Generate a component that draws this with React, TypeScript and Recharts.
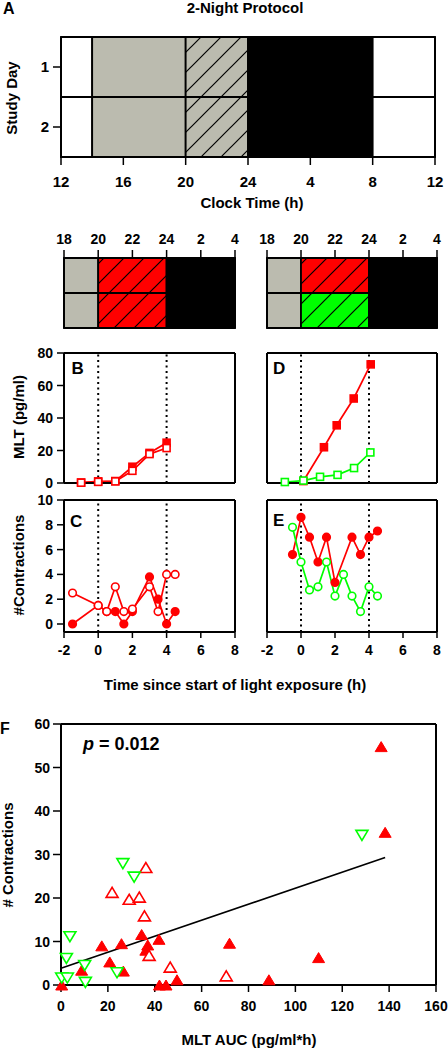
import React from "react"
import {
  ComposedChart,
  ScatterChart,
  Line,
  Scatter,
  XAxis,
  YAxis,
  ReferenceArea,
  ReferenceLine,
} from "recharts"

const FONT = "'Liberation Sans', Arial, Helvetica, sans-serif"
const RED = "#ff0000"
const GREEN = "#00ff00"
const GRAY = "#bbbbaf"

// panel A: 2-night protocol schedule (clock hours, 24+ = after midnight)
const studyDays = [1, 2]
const clockTicks = [12, 16, 20, 24, 28, 32, 36]
const clockLabels = ["12", "16", "20", "24", "4", "8", "12"]
const scheduleFrom = [12, 14, 20, 24, 32]
const scheduleTo = [14, 20, 24, 32, 36]
const scheduleKind = ["free", "dim", "dimLight", "sleep", "free"]

// light exposure bars above B-E
const barTicks = [18, 20, 22, 24, 26, 28]
const barLabels = ["18", "20", "22", "24", "2", "4"]
const barFrom = [18, 20, 24]
const barTo = [20, 24, 28]
const barKindLeft = [["dim", "red", "sleep"], ["dim", "red", "sleep"]]
const barKindRight = [["dim", "red", "sleep"], ["dim", "green", "sleep"]]

// time axes for B-E
const timeTicks = [-2, 0, 2, 4, 6, 8]
const lightOnOff = [0, 4]
const mltTicks = [0, 20, 40, 60, 80]
const contractionTicks = [0, 2, 4, 6, 8, 10]

// B: melatonin, red light both nights
const bTime = [-1, 0, 1, 2, 3, 4]
const bNight1 = [0.3, 1.0, 1.2, 10, 18.5, 24.8]
const bNight2 = [0.2, 0.7, 1.0, 7.5, 17.8, 21.5]

// D: melatonin, red vs green night
const dRedTime = [0.14, 1.35, 2.1, 3.1, 4.1]
const dRed = [1.2, 22, 35.5, 52, 73]
const dGreenTime = [-0.95, 0.14, 1.12, 2.15, 3.12, 4.08]
const dGreen = [0.6, 1.5, 3.8, 5.0, 9.2, 18.8]

// C: contractions, red light both nights
const cTime = [-1.5, 0, 0.5, 1, 1.5, 2, 3, 3.5, 4, 4.5]
const cNight1 = [0, 1.5, 1, 1, 0, 1, 3.8, 2, 0, 1]
const cNight2 = [2.5, 1.5, 1, 3, 1, 1.2, 3, 1, 4, 4]

// E: contractions, red vs green night
const eRedTime = [-0.5, 0, 0.5, 1, 1.5, 2, 3, 3.5, 4, 4.5]
const eRed = [5.6, 8.6, 7, 5, 7, 3.35, 7, 5.6, 7, 7.5]
const eGreenTime = [-0.5, 0, 0.5, 1, 1.5, 2, 2.5, 3, 3.5, 4, 4.5]
const eGreen = [7.8, 5, 2.75, 3, 5, 2.25, 4, 2.25, 1, 3, 2.25]

// F: contractions vs melatonin AUC
const aucTicks = [0, 20, 40, 60, 80, 100, 120, 140, 160]
const countTicks = [0, 10, 20, 30, 40, 50, 60]
const filledAuc = [136.6, 138.3, 17.4, 25.8, 34.4, 37.0, 36.2, 41.8, 20.8, 8.8, 26.6, 0.3, 42.0, 44.8, 49.5, 71.9, 109.9, 88.7]
const filledCount = [54.8, 35.1, 9.0, 9.5, 11.6, 9.2, 8.0, 10.5, 5.3, 3.4, 3.2, 0, 0, 0, 1.2, 9.6, 6.3, 1.2]
const openAuc = [36.2, 21.8, 29.1, 33.4, 35.6, 37.6, 46.6, 70.5]
const openCount = [27.0, 21.3, 19.7, 20.2, 15.9, 6.8, 4.1, 2.1]
const greenAuc = [128.4, 26.4, 31.2, 3.8, 2.3, 10.1, 23.9, 0.3, 2.7, 10.4]
const greenCount = [34.4, 27.9, 24.8, 11.1, 6.1, 4.5, 2.8, 1.6, 1.6, 0.6]
const fitAuc = [0, 138.3]
const fitCount = [3.85, 29.3]

const series = (ts: number[], vs: number[]) => ts.map((t, i) => ({ t, v: vs[i] }))
const points = (xs: number[], ys: number[]) => xs.map((x, i) => ({ x, y: ys[i] }))

const FILL: Record<string, string> = {
  free: "#fff",
  dim: GRAY,
  dimLight: "url(#hatchGray)",
  sleep: "#000",
  red: "url(#hatchRed)",
  green: "url(#hatchGreen)",
}

// plot rectangles in page pixels
type Rect = { x0: number; y0: number; x1: number; y1: number }
const RA = { x0: 61, y0: 37, x1: 435, y1: 157 }
const BAR_L = { x0: 64, y0: 258, x1: 235, y1: 328 }
const BAR_R = { x0: 267, y0: 258, x1: 437, y1: 328 }
const RB = { x0: 64, y0: 353, x1: 235, y1: 483 }
const RD = { x0: 267, y0: 353, x1: 437, y1: 483 }
const RC = { x0: 64, y0: 500, x1: 235, y1: 632 }
const RE = { x0: 267, y0: 500, x1: 437, y1: 632 }
const RF = { x0: 61, y0: 724, x1: 436, y1: 985 }

const PAD = 50
const AX = { left: 45, right: 5, top: 30, bottom: 35 }

function place(r: Rect) {
  return {
    style: { position: "absolute" as const, left: r.x0 - PAD, top: r.y0 - PAD },
    width: r.x1 - r.x0 + 2 * PAD,
    height: r.y1 - r.y0 + 2 * PAD,
    margin: { left: PAD - AX.left, right: PAD - AX.right, top: PAD - AX.top, bottom: PAD - AX.bottom },
  }
}

const tickFont = (size: number) => ({ fill: "#000", fontSize: size, fontWeight: 700, fontFamily: FONT })
const axisLine = { stroke: "#000", strokeWidth: 2 }
const tickLine = { stroke: "#000", strokeWidth: 1.5 }

const yTickLabel = (size: number) => (p: any) => (
  <text x={p.x} y={p.y} dy="0.36em" textAnchor="end" style={tickFont(size)}>
    {p.payload.value}
  </text>
)

const square = (color: string, filled: boolean) => (p: any) => (
  <rect key={`sq-${p.index}`} x={p.cx - 3.5} y={p.cy - 3.5} width={7} height={7}
    fill={filled ? color : "#fff"} stroke={color} strokeWidth={1.6} />
)
const circle = (color: string, filled: boolean) => (p: any) => (
  <circle key={`ci-${p.index}`} cx={p.cx} cy={p.cy} r={3.8}
    fill={filled ? color : "#fff"} stroke={color} strokeWidth={1.6} />
)
const triangle = (color: string, filled: boolean, up: boolean) => (p: any) => {
  const { cx, cy } = p
  const w = 6
  const h = 5
  const d = up
    ? `M${cx - w},${cy + h}L${cx + w},${cy + h}L${cx},${cy - h}Z`
    : `M${cx - w},${cy - h}L${cx + w},${cy - h}L${cx},${cy + h}Z`
  return <path d={d} fill={filled ? color : "#fff"} stroke={color} strokeWidth={filled ? 1 : 1.6} />
}

function hatch(id: string, color: string) {
  return (
    <pattern id={id} patternUnits="userSpaceOnUse" width={20} height={20}>
      <rect width={20} height={20} fill={color} />
      <path d="M0,20L20,0M-5,5L5,-5M15,25L25,15" stroke="#000" strokeWidth={1.2} />
    </pattern>
  )
}

function ScheduleChart() {
  const p = place(RA)
  return (
    <div style={p.style}>
      <ComposedChart width={p.width} height={p.height} margin={p.margin} data={clockTicks.map((t) => ({ t }))}>
        <XAxis type="number" dataKey="t" domain={[12, 36]} ticks={clockTicks} interval={0}
          tickFormatter={(v) => clockLabels[clockTicks.indexOf(v)]} height={AX.bottom}
          tickSize={8} tickMargin={11} tick={tickFont(15)} axisLine={axisLine} tickLine={tickLine} allowDataOverflow />
        <XAxis xAxisId="top" orientation="top" type="number" domain={[12, 36]} height={AX.top}
          tick={false} tickLine={false} axisLine={axisLine} allowDataOverflow />
        <YAxis type="number" domain={[0.5, 2.5]} reversed ticks={studyDays} interval={0} width={AX.left}
          tickSize={8} tickMargin={4} tick={tickFont(15)} axisLine={axisLine} tickLine={tickLine} allowDataOverflow />
        <YAxis yAxisId="right" orientation="right" type="number" domain={[0.5, 2.5]} reversed width={AX.right}
          tick={false} tickLine={false} axisLine={axisLine} allowDataOverflow />
        {studyDays.map((day) =>
          scheduleFrom.map((from, i) => (
            <ReferenceArea key={`${day}-${i}`} x1={from} x2={scheduleTo[i]} y1={day - 0.5} y2={day + 0.5}
              fill={FILL[scheduleKind[i]]} fillOpacity={1} stroke="#000" strokeWidth={1.8} ifOverflow="visible" />
          ))
        )}
      </ComposedChart>
    </div>
  )
}

function ExposureBar({ r, kinds }: { r: Rect; kinds: string[][] }) {
  const p = place(r)
  return (
    <div style={p.style}>
      <ComposedChart width={p.width} height={p.height} margin={p.margin} data={barTicks.map((t) => ({ t }))}>
        <XAxis orientation="top" type="number" dataKey="t" domain={[18, 28]} ticks={barTicks} interval={0}
          tickFormatter={(v) => barLabels[barTicks.indexOf(v)]} height={AX.top}
          tickSize={8} tickMargin={6} tick={tickFont(14)} axisLine={axisLine} tickLine={tickLine} allowDataOverflow />
        <XAxis xAxisId="bottom" orientation="bottom" type="number" domain={[18, 28]} ticks={barTicks} interval={0}
          height={AX.bottom} tickSize={9} tick={false} axisLine={axisLine} tickLine={tickLine} allowDataOverflow />
        <YAxis type="number" domain={[0.5, 2.5]} reversed width={AX.left}
          tick={false} tickLine={false} axisLine={axisLine} allowDataOverflow />
        <YAxis yAxisId="right" orientation="right" type="number" domain={[0.5, 2.5]} reversed width={AX.right}
          tick={false} tickLine={false} axisLine={axisLine} allowDataOverflow />
        {kinds.map((row, d) =>
          row.map((kind, i) => (
            <ReferenceArea key={`${d}-${i}`} x1={barFrom[i]} x2={barTo[i]} y1={studyDays[d] - 0.5} y2={studyDays[d] + 0.5}
              fill={FILL[kind]} fillOpacity={1} stroke="#000" strokeWidth={1.8} ifOverflow="visible" />
          ))
        )}
      </ComposedChart>
    </div>
  )
}

function TimePanel({ r, yDomain, yTicks, yPadBottom, xLabels, yLabels, topTicks, children }: any) {
  const p = place(r)
  const pad = { top: 0, bottom: yPadBottom || 0 }
  return (
    <div style={p.style}>
      <ComposedChart width={p.width} height={p.height} margin={p.margin}>
        <XAxis type="number" dataKey="t" domain={[-2, 8]} ticks={timeTicks} interval={0} height={AX.bottom}
          tickSize={xLabels ? 6 : 0} tickMargin={7} tick={xLabels ? tickFont(14) : false}
          axisLine={axisLine} tickLine={xLabels ? tickLine : false} />
        <XAxis xAxisId="top" orientation="top" type="number" domain={[-2, 8]} ticks={timeTicks} interval={0}
          height={AX.top} tickSize={5} tick={false} axisLine={axisLine}
          tickLine={topTicks ? tickLine : false} />
        <YAxis type="number" domain={yDomain} ticks={yTicks} interval={0} width={AX.left} padding={pad}
          tickSize={7} tickMargin={4} tick={yLabels ? yTickLabel(14) : false}
          axisLine={axisLine} tickLine={tickLine} />
        <YAxis yAxisId="right" orientation="right" type="number" domain={yDomain} width={AX.right} padding={pad}
          tick={false} tickLine={false} axisLine={axisLine} />
        {lightOnOff.map((t) => (
          <ReferenceLine key={t} x={t} stroke="#000" strokeWidth={2} strokeDasharray="2 3.5" />
        ))}
        {children}
      </ComposedChart>
    </div>
  )
}

function seriesLine(key: string, data: any[], color: string, dot: any) {
  return (
    <Line key={key} data={data} dataKey="v" type="linear" stroke={color} strokeWidth={1.7}
      dot={dot} activeDot={false} isAnimationActive={false} />
  )
}

function ScatterPanel() {
  const p = place(RF)
  return (
    <div style={p.style}>
      <ScatterChart width={p.width} height={p.height} margin={p.margin}>
        <XAxis type="number" dataKey="x" domain={[0, 160]} ticks={aucTicks} interval={0} height={AX.bottom}
          tickSize={7} tickMargin={9} tick={tickFont(14)} axisLine={axisLine} tickLine={tickLine} />
        <XAxis xAxisId="top" orientation="top" type="number" dataKey="x" domain={[0, 160]} height={AX.top}
          tick={false} tickLine={false} axisLine={axisLine} />
        <YAxis type="number" dataKey="y" domain={[0, 60]} ticks={countTicks} interval={0} width={AX.left}
          tickSize={8} tickMargin={3} tick={yTickLabel(14)} axisLine={axisLine} tickLine={tickLine} />
        <YAxis yAxisId="right" orientation="right" type="number" dataKey="y" domain={[0, 60]} width={AX.right}
          tick={false} tickLine={false} axisLine={axisLine} />
        <Scatter data={points(fitAuc, fitCount)} line={{ stroke: "#000", strokeWidth: 1.7 }}
          shape={() => <g />} isAnimationActive={false} />
        <Scatter data={points(filledAuc, filledCount)} shape={triangle(RED, true, true)} isAnimationActive={false} />
        <Scatter data={points(openAuc, openCount)} shape={triangle(RED, false, true)} isAnimationActive={false} />
        <Scatter data={points(greenAuc, greenCount)} shape={triangle(GREEN, false, false)} isAnimationActive={false} />
      </ScatterChart>
    </div>
  )
}

function Labels() {
  const rot = (x: number, y: number) => `translate(${x},${y}) rotate(-90)`
  return (
    <svg width={448} height={1050} style={{ position: "absolute", left: 0, top: 0, pointerEvents: "none" }}>
      <g fontFamily={FONT} fontWeight={700} fill="#000">
        <text x={3} y={14} fontSize={16}>A</text>
        <text x={245} y={13} fontSize={15} textAnchor="middle">2-Night Protocol</text>
        <text transform={rot(17, 98)} fontSize={15} textAnchor="middle">Study Day</text>
        <text x={252} y={208} fontSize={15} textAnchor="middle">Clock Time (h)</text>
        <text x={71.5} y={373.5} fontSize={17}>B</text>
        <text x={273} y={373.5} fontSize={17}>D</text>
        <text x={70} y={527} fontSize={17}>C</text>
        <text x={273} y={526} fontSize={17}>E</text>
        <text transform={rot(23.5, 417)} fontSize={15} textAnchor="middle">MLT (pg/ml)</text>
        <text transform={rot(24, 565)} fontSize={15} textAnchor="middle">#Contractions</text>
        <text x={235} y={690} fontSize={15} textAnchor="middle">Time since start of light exposure (h)</text>
        <text x={0} y={733.5} fontSize={16}>F</text>
        <text x={83} y={750} fontSize={18}>
          <tspan fontStyle="italic">p</tspan> = 0.012
        </text>
        <text transform={rot(13, 855)} fontSize={15} textAnchor="middle"># Contractions</text>
        <text x={249} y={1045} fontSize={15} textAnchor="middle">MLT AUC (pg/ml*h)</text>
      </g>
    </svg>
  )
}

export default function App() {
  return (
    <div style={{ position: "absolute", left: 0, top: 0, width: 448, height: 1050, overflow: "hidden", background: "#fff" }}>
      <svg width={0} height={0} style={{ position: "absolute" }}>
        <defs>
          {hatch("hatchGray", GRAY)}
          {hatch("hatchRed", RED)}
          {hatch("hatchGreen", GREEN)}
        </defs>
      </svg>
      <ScheduleChart />
      <ExposureBar r={BAR_L} kinds={barKindLeft} />
      <ExposureBar r={BAR_R} kinds={barKindRight} />
      <TimePanel r={RB} yDomain={[0, 80]} yTicks={mltTicks} xLabels={false} yLabels topTicks>
        {seriesLine("b1", series(bTime, bNight1), RED, square(RED, true))}
        {seriesLine("b2", series(bTime, bNight2), RED, square(RED, false))}
      </TimePanel>
      <TimePanel r={RD} yDomain={[0, 80]} yTicks={mltTicks} xLabels={false} yLabels={false} topTicks>
        {seriesLine("d1", series(dRedTime, dRed), RED, square(RED, true))}
        {seriesLine("d2", series(dGreenTime, dGreen), GREEN, square(GREEN, false))}
      </TimePanel>
      <ScatterPanel />
      <TimePanel r={RE} yDomain={[0, 10]} yTicks={contractionTicks} yPadBottom={8} xLabels yLabels={false} topTicks={false}>
        {seriesLine("e1", series(eRedTime, eRed), RED, circle(RED, true))}
        {seriesLine("e2", series(eGreenTime, eGreen), GREEN, circle(GREEN, false))}
      </TimePanel>
      <TimePanel r={RC} yDomain={[0, 10]} yTicks={contractionTicks} yPadBottom={8} xLabels yLabels topTicks={false}>
        {seriesLine("c1", series(cTime, cNight1), RED, circle(RED, true))}
        {seriesLine("c2", series(cTime, cNight2), RED, circle(RED, false))}
      </TimePanel>
      <Labels />
    </div>
  )
}
